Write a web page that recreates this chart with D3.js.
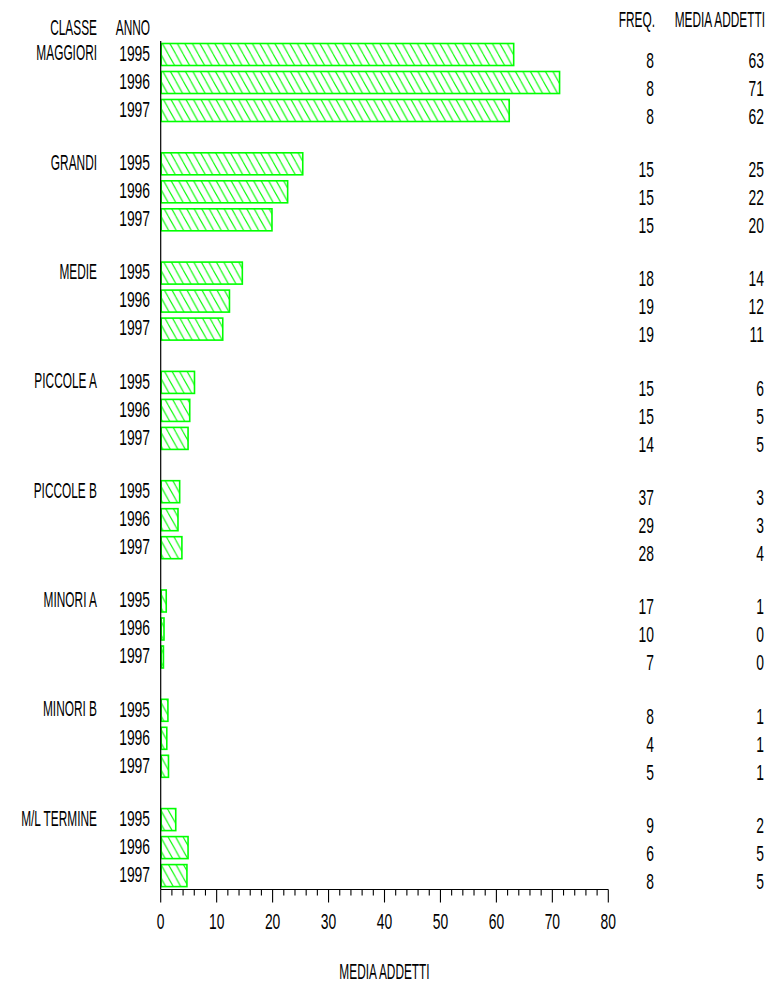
<!DOCTYPE html>
<html>
<head>
<meta charset="utf-8">
<script src="https://cdn.jsdelivr.net/npm/d3@7"></script>
<style>
  html, body { margin: 0; padding: 0; background: #fff; }
  svg { display: block; }
  text { font-family: "Liberation Sans", Arial, sans-serif; fill: #000; }
</style>
</head>
<body>
<svg id="chart" width="769" height="986"></svg>
<script>
// ---- data ----
const classes = ["MAGGIORI", "GRANDI", "MEDIE", "PICCOLE A", "PICCOLE B", "MINORI A", "MINORI B", "M/L TERMINE"];
const years = ["1995", "1996", "1997"];
const mediaAddetti = [
  [63.0, 71.2, 62.2],
  [25.3, 22.6, 19.8],
  [14.5, 12.2, 11.0],
  [5.95, 5.1, 4.8],
  [3.3, 3.0, 3.7],
  [0.9, 0.5, 0.4],
  [1.2, 1.0, 1.3],
  [2.6, 4.8, 4.6]
];
const freqLabels = [
  [8, 8, 8], [15, 15, 15], [18, 19, 19], [15, 15, 14],
  [37, 29, 28], [17, 10, 7], [8, 4, 5], [9, 6, 8]
];
const mediaLabels = [
  [63, 71, 62], [25, 22, 20], [14, 12, 11], [6, 5, 5],
  [3, 3, 4], [1, 0, 0], [1, 1, 1], [2, 5, 5]
];
const xTicks = [0, 10, 20, 30, 40, 50, 60, 70, 80];

// ---- layout ----
const svg = d3.select("#chart");
const X0 = 160.7, X1 = 608.3;
const axisY = 889.5;
const fontSize = 22;
const sxText = 0.54, sxNum = 0.63;

const x = d3.scaleLinear().domain([0, 80]).range([X0, X1]);
const yGroup = d3.scaleBand().domain(classes).range([43.5, 43.5 + 8 * 109.3]).paddingInner(0).paddingOuter(0);
const yYear = d3.scaleBand().domain(years).range([-3, 81]).paddingInner(0.214).paddingOuter(0.107);

function label(px, py, str, anchor) {
  const sx = /^[0-9]+$/.test(str) ? sxNum : sxText;
  svg.append("text")
    .attr("transform", `translate(${px},${py}) scale(${sx},1)`)
    .attr("text-anchor", anchor || "end")
    .attr("dominant-baseline", "central")
    .attr("font-size", fontSize)
    .text(str);
}

// hatch pattern
const pw = 7.5, ph = 13.5;
const defs = svg.append("defs");
const pat = defs.append("pattern")
  .attr("id", "hatch")
  .attr("patternUnits", "userSpaceOnUse")
  .attr("x", X0).attr("y", 0)
  .attr("width", pw).attr("height", ph);
pat.append("path")
  .attr("d", `M0,0L${pw},${ph}M${-pw},0L0,${ph}M${pw},0L${2 * pw},${ph}`)
  .attr("stroke", "#00ff00").attr("stroke-width", 1.1).attr("fill", "none");

// bars
const rows = [];
classes.forEach((c, gi) => years.forEach((yr, yi) => rows.push({ c, yr, v: mediaAddetti[gi][yi], f: freqLabels[gi][yi], m: mediaLabels[gi][yi] })));

svg.append("g").selectAll("rect").data(rows).join("rect")
  .attr("x", X0 + 0.5)
  .attr("y", d => yGroup(d.c) + yYear(d.yr))
  .attr("width", d => Math.max(0, x(d.v) - X0))
  .attr("height", yYear.bandwidth())
  .attr("fill", "url(#hatch)")
  .attr("stroke", "#00ff00")
  .attr("stroke-width", 1.6);

// y axis line
svg.append("line")
  .attr("x1", X0).attr("x2", X0).attr("y1", 41).attr("y2", axisY)
  .attr("stroke", "#000").attr("stroke-width", 1.2);

// x axis
svg.append("line")
  .attr("x1", X0).attr("x2", X1).attr("y1", axisY).attr("y2", axisY)
  .attr("stroke", "#000").attr("stroke-width", 1.2);
const minor = d3.range(0, 81, 2);
svg.append("g").selectAll("line").data(minor).join("line")
  .attr("x1", d => x(d)).attr("x2", d => x(d))
  .attr("y1", axisY)
  .attr("y2", d => (d % 10 === 0 ? axisY + 13 : axisY + 6))
  .attr("stroke", "#000").attr("stroke-width", 1.1);
xTicks.forEach(t => label(x(t), 921, String(t), "middle"));
label((X0 + X1) / 2, 972, "MEDIA ADDETTI", "middle");

// headers
label(97, 28, "CLASSE", "end");
label(150, 28, "ANNO", "end");
label(655, 20, "FREQ.", "end");
label(765, 20, "MEDIA ADDETTI", "end");

// row labels
rows.forEach(d => {
  const cy = yGroup(d.c) + yYear(d.yr) + yYear.bandwidth() / 2;
  if (d.yr === "1995") label(97, cy - 1.5, d.c, "end");
  label(150, cy - 1.5, d.yr, "end");
  label(654, cy + 5.5, String(d.f), "end");
  label(764, cy + 5.5, String(d.m), "end");
});
</script>
</body>
</html>
